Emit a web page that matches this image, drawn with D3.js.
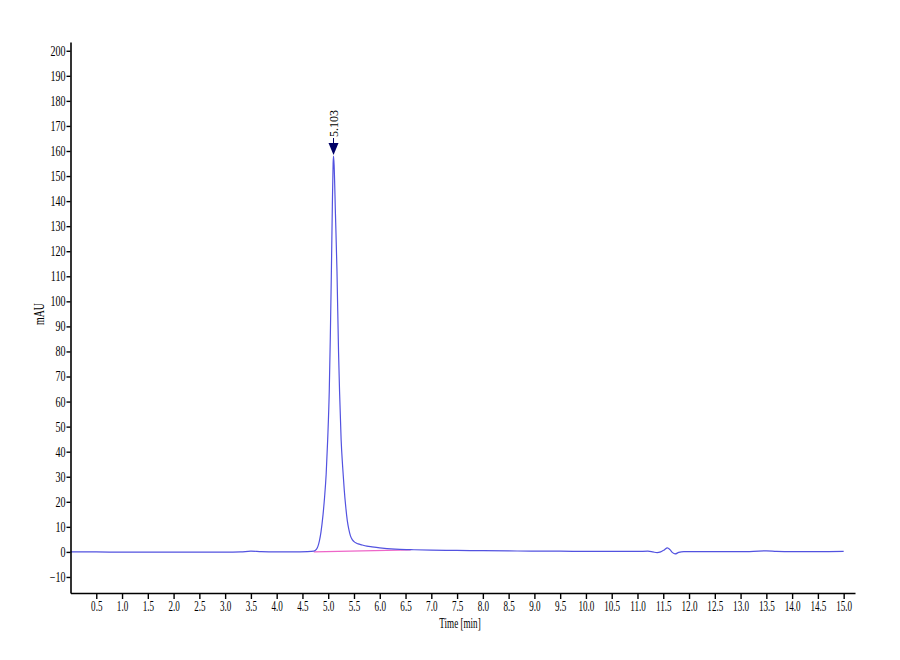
<!DOCTYPE html>
<html>
<head>
<meta charset="utf-8">
<script src="https://cdn.jsdelivr.net/npm/d3@7"></script>
<style>
  body { margin: 0; background: #fff; }
  text { font-family: "Liberation Serif", "Times New Roman", serif; }
</style>
</head>
<body>
<svg width="900" height="660"></svg>
<script>
// chromatogram trace
var times = [0.0, 0.5, 1.0, 1.5, 2.0, 2.5, 3.0, 3.3, 3.5, 3.7, 4.0, 4.3, 4.6, 4.72, 4.77, 4.80, 4.83, 4.86,
    4.90, 4.93, 4.96, 4.99, 5.02, 5.04, 5.06, 5.08, 5.095, 5.103, 5.115, 5.14, 5.17, 5.20, 5.22, 5.25,
    5.28, 5.31, 5.34, 5.37, 5.40, 5.43, 5.47, 5.52, 5.58, 5.65, 5.75, 5.85, 6.0, 6.3, 6.6, 7.0, 7.5,
    8.0, 8.5, 9.0, 9.5, 10.0, 10.5, 11.0, 11.2, 11.3, 11.38, 11.45, 11.52, 11.58, 11.63, 11.68, 11.73,
    11.8, 11.9, 12.2, 12.5, 13.0, 13.5, 13.7, 14.0, 14.5, 15.0];
var mAU = [0.0, 0.0, -0.1, -0.1, -0.1, -0.1, -0.1, 0.0, 0.3, 0.1, 0.0, 0.0, 0.1, 0.3, 1.0, 2.2, 4.5, 8,
    15, 22, 31, 45, 64, 85, 110, 138, 155, 158, 154, 135, 112, 80, 64, 45,
    34, 25, 18, 12.5, 9, 6.5, 4.8, 3.8, 3.2, 2.8, 2.3, 2.0, 1.6, 1.1, 0.9, 0.7, 0.6,
    0.5, 0.4, 0.3, 0.3, 0.2, 0.2, 0.2, 0.3, 0.0, -0.3, 0.0, 0.8, 1.6, 0.9, -0.3, -0.8,
    -0.2, 0.1, 0.1, 0.1, 0.1, 0.4, 0.2, 0.1, 0.1, 0.2];

// integration baseline under the peak
var baseTimes = [4.72, 6.6];
var baseValues = [0.0, 0.8];

// peak marker
var peakTime = 5.103;
var peakValue = 158;
var peakLabel = "5.103";

var xTicks = [0.5, 1.0, 1.5, 2.0, 2.5, 3.0, 3.5, 4.0, 4.5, 5.0, 5.5, 6.0, 6.5, 7.0, 7.5, 8.0,
    8.5, 9.0, 9.5, 10.0, 10.5, 11.0, 11.5, 12.0, 12.5, 13.0, 13.5, 14.0, 14.5, 15.0];
var yTicks = [-10, 0, 10, 20, 30, 40, 50, 60, 70, 80, 90, 100, 110, 120, 130, 140, 150, 160,
    170, 180, 190, 200];

var svg = d3.select("svg");

var scX = d3.scaleLinear().domain([0, 15.22]).range([70.5, 855]);
var scY = d3.scaleLinear().domain([-16.4, 203.5]).range([593, 42]);

var trace = times.map((t, i) => [t, mAU[i]]);
var base = baseTimes.map((t, i) => [t, baseValues[i]]);

var lineMaker = d3.line()
    .curve(d3.curveMonotoneX)
    .x(d => scX(d[0]))
    .y(d => scY(d[1]));

// baseline first, trace on top
svg.append("path")
    .attr("fill", "none")
    .attr("stroke", "#ee66c8")
    .attr("stroke-width", 1.2)
    .attr("d", lineMaker(base));

svg.append("path")
    .attr("fill", "none")
    .attr("stroke", "#5252e0")
    .attr("stroke-width", 1.2)
    .attr("d", lineMaker(trace));

// axes
var yAxis = svg.append("g")
    .attr("transform", `translate(${scX(0)},0)`)
    .call(d3.axisLeft(scY).tickValues(yTicks).tickFormat(d3.format("d")).tickSize(4).tickPadding(1).tickSizeOuter(0));

var xAxis = svg.append("g")
    .attr("transform", `translate(0,${scY.range()[0]})`)
    .call(d3.axisBottom(scX).tickValues(xTicks).tickFormat(d3.format(".1f")).tickSize(6).tickPadding(2).tickSizeOuter(0));

[yAxis, xAxis].forEach(function(g) {
    g.select(".domain").attr("stroke", "#000").attr("stroke-width", 1.6);
    g.selectAll(".tick line").attr("stroke", "#000").attr("stroke-width", 1.4);
    g.selectAll("text")
        .attr("font-family", "Liberation Serif")
        .attr("font-size", 14)
        .attr("fill", "#000");
});

// narrow the tick labels like the original
yAxis.selectAll(".tick text")
    .attr("x", -5 / 0.72)
    .attr("transform", "scale(0.72,1)");
xAxis.selectAll(".tick text")
    .attr("transform", "scale(0.65,1)");

// axis titles
svg.append("text")
    .attr("transform", `translate(460,628) scale(0.65,1)`)
    .attr("text-anchor", "middle")
    .attr("font-size", 14)
    .attr("fill", "#000")
    .text("Time [min]");

svg.append("text")
    .attr("transform", `translate(44,314) rotate(-90) scale(0.7,1)`)
    .attr("text-anchor", "middle")
    .attr("font-size", 14)
    .attr("fill", "#000")
    .text("mAU");

// peak marker and label
var px = scX(peakTime);
var py = scY(peakValue) - 1;

svg.append("line")
    .attr("x1", px).attr("x2", px)
    .attr("y1", py - 17).attr("y2", py - 12)
    .attr("stroke", "#000066")
    .attr("stroke-width", 1);

svg.append("path")
    .attr("d", `M${px - 5},${py - 12}L${px + 5},${py - 12}L${px},${py}Z`)
    .attr("fill", "#000066");

svg.append("text")
    .attr("transform", `translate(${px + 4},${py - 18}) rotate(-90)`)
    .attr("font-size", 12)
    .attr("fill", "#000")
    .text(peakLabel);
</script>
</body>
</html>
